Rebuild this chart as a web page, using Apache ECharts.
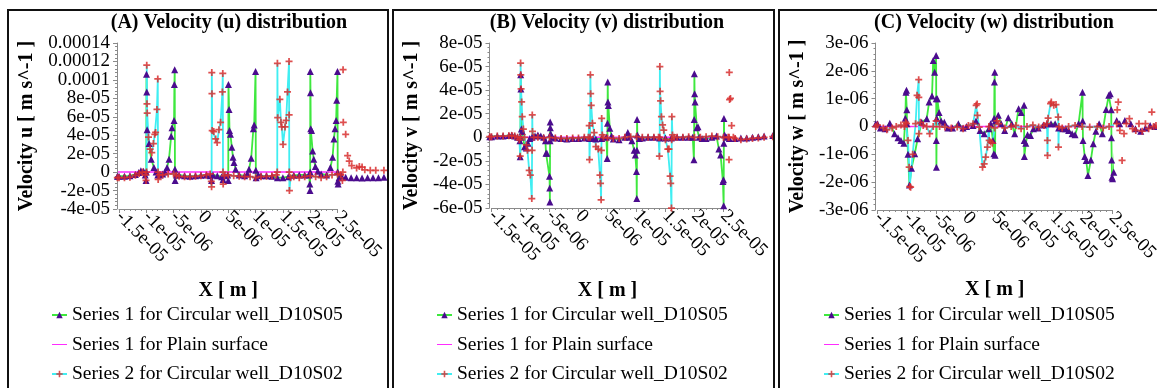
<!DOCTYPE html>
<html>
<head>
<meta charset="utf-8">
<script src="https://cdn.jsdelivr.net/npm/echarts@6/dist/echarts.min.js"></script>
<style>
  html, body { margin: 0; padding: 0; background: #fff; width: 1157px; height: 388px; overflow: hidden; }
  .panel { position: absolute; box-sizing: border-box; border: 2px solid #111; overflow: hidden; background: #fff; }
  .panel > div { position: absolute; left: 0; top: 0; }
</style>
</head>
<body>
<div id="pA" class="panel"><div id="cA"></div></div>
<div id="pB" class="panel"><div id="cB"></div></div>
<div id="pC" class="panel"><div id="cC"></div></div>
<script>
// ---- Units used in the arrays below ----
// x positions are in micrometres; u and v in 1e-5 m/s; w in 1e-6 m/s.
const X_UNIT = 1e-6;
const UV_UNIT = 1e-5;
const W_UNIT = 1e-6;

const seriesNames = [
  'Series 1 for Circular well_D10S05',
  'Series 1 for Plain surface',
  'Series 2 for Circular well_D10S02'
];

const xTickLabels = ['-1.5e-05', '-1e-05', '-5e-06', '0', '5e-06', '1e-05', '1.5e-05', '2e-05', '2.5e-05'];
const uTickLabels = ['-4e-05', '-2e-05', '0', '2e-05', '4e-05', '6e-05', '8e-05', '0.0001', '0.00012', '0.00014'];
const vTickLabels = ['-6e-05', '-4e-05', '-2e-05', '0', '2e-05', '4e-05', '6e-05', '8e-05'];
const wTickLabels = ['-3e-06', '-2e-06', '-1e-06', '0', '1e-06', '2e-06', '3e-06'];

// ---- (A) u velocity ----
const uD10S05 = [[-15.3,-0.45],[-15,-0.45],[-14,-0.45],[-13,-0.4],[-12,-0.25],[-11.4,-0.05],[-11,0.15],[-10.5,0.1],[-10.2,-0.3],[-10.05,-0.9],[-10.0,0.0],[-9.97,10.6],[-9.92,8.7],[-9.85,4.6],[-9.5,3.1],[-9.1,1.4],[-8.6,0.5],[-8.2,0.0],[-7.9,-0.3],[-7.5,-0.3],[-7,-0.2],[-6.6,0.0],[-6.2,0.5],[-5.85,1.4],[-5.45,3.9],[-5.3,4.8],[-4.92,5.6],[-4.86,9.5],[-4.8,11.1],[-4.76,0.3],[-4.72,-0.9],[-4.5,-0.3],[-4,-0.3],[-3,-0.4],[-2,-0.45],[-1,-0.4],[0,-0.35],[1,-0.3],[1.7,-0.4],[1.95,-0.9],[2.2,-0.3],[3,-0.4],[3.8,-0.5],[4.05,-0.8],[4.4,-0.4],[4.9,-0.3],[5.0,-0.9],[5.04,9.5],[5.15,6.8],[5.23,4.5],[5.4,4.1],[5.65,2.7],[5.87,1.6],[6.05,1.05],[6.35,0.3],[7,-0.3],[8,-0.4],[8.5,-0.2],[8.8,0.3],[9.2,1.5],[9.6,4.7],[9.75,5.1],[10.0,10.9],[10.05,0.2],[10.1,-0.6],[10.5,-0.3],[11,-0.4],[12,-0.4],[13,-0.45],[14,-0.6],[15,-0.6],[16,-0.5],[17,-0.35],[18,-0.3],[19,-0.3],[19.8,-0.3],[19.93,-1.3],[19.97,-2.0],[20.0,0.0],[20.02,10.9],[20.06,8.6],[20.1,4.7],[20.25,4.5],[20.45,2.3],[20.65,1.4],[20.95,0.6],[21.4,0.1],[22,-0.2],[23,-0.3],[23.7,0.5],[24.1,1.6],[24.35,3.6],[24.55,4.7],[24.75,5.6],[24.85,7.8],[25.0,10.9],[25.04,0.0],[25.07,-1.0],[25.12,-1.3],[25.3,-0.6],[25.7,-0.4],[26.5,-0.55],[27.5,-0.6],[28.5,-0.6],[29.5,-0.65],[30.5,-0.6],[31.5,-0.6],[32.5,-0.6],[33.5,-0.55]];
const uPlain = [[-15.3,0],[-5,0],[5,0],[15,0],[25,0],[33.5,0]];
const uD10S02 = [[-15.3,-0.6],[-15,-0.6],[-14,-0.6],[-13,-0.55],[-12,-0.35],[-11.3,-0.15],[-10.7,0.0],[-10.2,-0.3],[-10.05,-0.9],[-9.95,0.0],[-9.92,11.6],[-9.88,7.4],[-9.84,6.4],[-9.6,3.8],[-9.3,2.5],[-9.0,2.1],[-8.7,3.1],[-8.45,4.1],[-8.3,4.3],[-8.05,6.8],[-7.9,10.1],[-7.86,0.0],[-7.83,-0.8],[-7.6,-0.3],[-7,-0.3],[-6,-0.2],[-5,-0.2],[-4.5,-0.35],[-4,-0.45],[-3,-0.5],[-2,-0.5],[-1,-0.45],[0,-0.4],[1,-0.3],[1.7,-0.2],[1.9,-1.0],[1.95,-1.6],[1.99,10.8],[2.02,8.5],[2.06,4.5],[2.35,4.4],[2.7,3.6],[2.97,3.2],[3.3,4.6],[3.6,5.4],[3.93,8.7],[4.0,10.7],[4.04,0.0],[4.07,-1.3],[4.3,-0.4],[5,-0.3],[6,-0.4],[7,-0.45],[8,-0.5],[9,-0.5],[10,-0.6],[11,-0.5],[12,-0.45],[13,-0.4],[13.8,-0.3],[13.97,0.0],[14.0,11.8],[14.05,5.9],[14.45,7.9],[14.65,5.4],[14.8,4.9],[15.03,3.0],[15.4,4.9],[15.6,5.6],[15.85,8.7],[16.13,12.0],[16.15,6.2],[16.17,0.0],[16.2,-2.0],[16.4,-0.6],[17,-0.5],[18,-0.6],[19,-0.5],[20,-0.4],[21,-0.5],[22,-0.6],[23,-0.5],[24,-0.3],[25,-0.2],[25.6,-0.3],[25.9,-0.9],[25.98,0.0],[26.02,11.1],[26.06,5.4],[26.5,4.1],[26.85,1.8],[27.15,1.2],[27.6,0.7],[28.5,0.45],[29,0.6],[29.5,0.55],[30,0.25],[31,0.2],[32,0.2],[33.5,0.2]];

// ---- (B) v velocity ----
const vD10S05 = [[-15.3,0.05],[-15,0.05],[-14,0.1],[-13,0.1],[-12,0.15],[-11.5,0.2],[-11,0.1],[-10.5,0.0],[-10.1,-0.3],[-10.05,-1.65],[-10.0,0.0],[-9.97,5.3],[-9.93,4.1],[-9.85,0.7],[-9.7,0.5],[-9.3,-0.8],[-9.0,-0.9],[-8.7,-0.5],[-8.4,-0.1],[-8,0.0],[-7.5,0.1],[-7,0.2],[-6.5,0.1],[-6,0.0],[-5.7,-0.3],[-5.6,-1.35],[-5.45,-1.35],[-5.0,-3.3],[-4.96,-4.3],[-4.93,-5.5],[-4.9,-0.3],[-4.88,1.3],[-4.86,0.8],[-4.8,0.3],[-4.5,0.0],[-4,-0.05],[-3,-0.1],[-2,-0.15],[-1,-0.1],[0,-0.1],[1,-0.05],[1.9,-0.1],[2.5,-0.1],[3,-0.15],[4,-0.1],[4.8,0.0],[4.95,-1.8],[5.0,1.2],[5.04,4.7],[5.08,3.0],[5.15,2.7],[5.4,0.76],[5.7,0.1],[6,-0.15],[7,-0.2],[8,0.0],[8.5,0.4],[8.8,0.0],[9.2,-0.3],[9.6,-1.1],[9.8,-1.5],[10.0,-2.9],[10.05,-5.2],[10.08,-1.1],[10.1,1.5],[10.15,0.2],[10.5,-0.1],[11,-0.05],[12,0.0],[13,0.0],[14,-0.05],[15,-0.05],[16,-0.05],[17,0.0],[18,0.0],[19,0.0],[19.7,0.0],[19.9,-1.9],[19.95,1.5],[19.98,5.4],[20.02,3.7],[20.1,3.0],[20.4,0.8],[20.6,0.9],[20.8,0.0],[21.3,-0.1],[22,-0.1],[23,0.0],[23.8,0.1],[24.2,-1.0],[24.5,-1.5],[24.9,-3.75],[25.0,-3.6],[25.03,-5.8],[25.06,-0.5],[25.08,1.6],[25.2,0.2],[25.5,0.0],[26,-0.1],[27,-0.1],[28,-0.05],[29,-0.05],[30,0.0],[31,0.05],[32,0.1],[33.5,0.15]];
const vPlain = [[-15.3,0],[-5,0],[5,0],[15,0],[25,0],[33.5,0]];
const vD10S02 = [[-15.3,0.05],[-15,0.05],[-14,0.1],[-13,0.1],[-12,0.12],[-11.5,0.15],[-11,0.1],[-10.5,0.0],[-10.2,-0.2],[-10.05,-1.6],[-10.0,0.0],[-9.98,6.3],[-9.95,5.3],[-9.9,4.1],[-9.8,3.0],[-9.7,1.75],[-9.5,0.7],[-9.3,0.0],[-9.0,-0.65],[-8.8,-1.1],[-8.5,-2.8],[-8.3,-3.2],[-8.05,-5.2],[-8.0,-1.1],[-7.97,1.9],[-7.93,0.5],[-7.7,0.0],[-7,0.0],[-6,-0.05],[-5,0.0],[-4,-0.05],[-3,-0.1],[-2,-0.1],[-1,-0.05],[0,-0.05],[1,0.0],[1.7,0.0],[1.85,1.0],[1.9,-1.9],[2.0,0.0],[2.05,5.3],[2.1,3.7],[2.2,2.7],[2.4,1.2],[2.7,0.4],[3.0,-0.8],[3.4,-1.0],[3.7,-3.2],[3.8,-3.9],[3.9,-5.3],[3.95,-1.1],[4.0,1.6],[4.1,0.2],[4.3,0.0],[5,-0.05],[6,-0.1],[7,-0.1],[8,0.0],[9,0.05],[10,0.05],[11,0.0],[12,0.0],[13,0.0],[13.8,0.0],[13.95,-1.6],[14.0,0.0],[14.03,6.0],[14.07,3.9],[14.15,3.1],[14.3,1.75],[14.5,1.05],[14.7,0.6],[15.0,-0.2],[15.4,-1.0],[15.6,-1.0],[15.8,-3.3],[15.9,-3.9],[16.03,-6.0],[16.07,-0.2],[16.1,1.75],[16.2,0.2],[16.5,0.0],[17,0.0],[18,0.0],[19,0.05],[20,0.0],[21,0.0],[22,0.05],[23,0.1],[24,0.05],[25,0.0],[25.8,0.0],[25.95,-1.9],[25.98,0.0],[26.0,5.5],[26.05,3.2],[26.2,3.3],[26.4,1.0],[26.7,0.0],[27,-0.1],[28,-0.2],[29,-0.15],[30,-0.1],[31,-0.05],[32,0.0],[33.5,0.05]];

// ---- (C) w velocity ----
const wD10S05 = [[-15.3,0.1],[-15,0.1],[-14.5,-0.05],[-13.7,-0.08],[-12.9,0.12],[-12.1,-0.26],[-11.5,-0.4],[-11.0,-0.5],[-10.5,-0.6],[-10.25,0.3],[-10.15,1.23],[-10.05,1.3],[-10.0,0.6],[-9.98,0.1],[-9.8,-1.0],[-9.55,-2.1],[-9.2,-1.5],[-8.65,-0.98],[-8.15,-0.44],[-7.45,0.15],[-6.6,0.28],[-6.2,0.88],[-5.7,1.1],[-5.5,2.37],[-5.25,1.95],[-5.0,2.55],[-4.98,1.0],[-4.97,-0.5],[-4.95,-1.46],[-4.9,0.3],[-4.8,1.0],[-4.5,0.5],[-4.15,0.2],[-3.6,0.15],[-3.0,-0.05],[-2.2,-0.05],[-1.2,0.1],[-0.4,-0.05],[0.2,0.0],[1.3,0.04],[1.8,0.2],[2.5,-0.14],[3.2,-0.26],[4.0,-0.08],[4.3,0.1],[4.7,-0.5],[4.85,-0.98],[4.9,0.3],[4.95,1.6],[5.0,1.95],[5.05,-1.03],[5.1,0.2],[5.6,0.4],[6.1,0.1],[6.7,-0.14],[7.3,0.31],[7.9,0.1],[8.4,-0.26],[9.07,0.64],[9.5,0.5],[10.0,0.76],[10.02,-0.5],[10.05,-1.08],[10.3,-0.6],[10.6,-0.3],[11.1,-0.32],[11.6,-0.08],[12.4,-0.05],[13.3,0.05],[13.9,0.1],[14.6,0.1],[15.3,0.1],[15.9,-0.05],[16.6,-0.08],[17.1,-0.08],[17.6,-0.14],[18.2,-0.26],[18.7,-0.3],[19.3,0.1],[19.97,1.23],[20.0,0.2],[20.05,-0.5],[20.35,-1.08],[20.6,-1.22],[20.9,-1.76],[21.4,-1.2],[21.8,-0.62],[22.25,-0.17],[22.8,0.1],[23.35,-0.26],[24.0,0.61],[24.45,1.12],[24.7,1.18],[24.87,0.6],[24.9,-0.4],[24.95,-1.2],[25.0,-1.82],[25.1,-1.88],[25.3,-1.64],[25.8,0.22],[26.3,0.1],[27.2,0.22],[28.2,0.1],[29.0,-0.08],[29.9,-0.17],[30.7,-0.05],[31.5,0.04],[32.3,0.0],[33.5,0.0]];
const wPlain = [[-15.3,0],[-5,0],[5,0],[15,0],[25,0],[33.5,0]];
const wD10S02 = [[-15.3,0.0],[-15,0.05],[-14,-0.05],[-13.4,-0.12],[-12.5,-0.05],[-11.8,0.0],[-11,0.05],[-10.4,0.0],[-10.2,0.15],[-10.05,0.1],[-9.8,-0.5],[-9.6,-1.46],[-9.5,-2.16],[-9.35,-2.18],[-9.0,-1.0],[-8.5,0.1],[-8.25,1.12],[-7.97,1.68],[-7.95,1.05],[-7.93,-0.26],[-7.7,0.15],[-7.2,0.04],[-6.6,0.0],[-6.1,-0.26],[-5.5,0.0],[-5.0,0.2],[-4.4,0.0],[-3.5,-0.02],[-2.4,-0.05],[-1.4,-0.02],[-0.4,-0.08],[0.5,0.04],[1.3,0.1],[1.83,0.76],[2.0,0.81],[2.05,0.4],[2.35,-0.02],[2.92,-1.46],[3.2,-1.34],[3.45,-1.1],[3.75,-0.74],[4.0,0.0],[4.05,-0.5],[4.3,-0.56],[4.6,-0.6],[5.0,-0.05],[5.4,0.2],[5.65,0.1],[6.7,-0.05],[7.8,0.0],[8.6,0.04],[9.5,-0.08],[10.5,0.0],[11.5,0.05],[12.5,-0.02],[13.4,0.04],[13.9,0.1],[13.98,-0.5],[14.0,-1.04],[14.1,0.3],[14.52,0.82],[14.65,0.88],[15.07,0.76],[15.45,0.79],[15.83,0.34],[15.87,-0.74],[15.95,0.0],[16.5,-0.05],[17.6,0.0],[18.7,0.04],[19.9,0.0],[21.2,-0.02],[22.5,0.0],[23.5,-0.05],[24.5,0.0],[25.8,0.1],[25.9,0.6],[26.07,0.88],[26.34,-0.14],[26.72,-1.22],[27.05,-0.26],[27.45,0.1],[27.97,0.28],[28.5,-0.08],[29.06,-0.14],[29.6,0.1],[30.15,-0.17],[30.7,0.1],[31.25,-0.08],[31.79,0.52],[32.1,0.0],[32.5,0.04],[33.5,0.0]];

// ---- drawing ----
const FONT = '"Liberation Serif", "Times New Roman", serif';
const PLUS = 'path://M3,0H5V3H8V5H5V8H3V5H0V3H3Z';
const LINE_ICON = 'path://M0,0H30V2H0Z';
const AXIS_GREY = '#8a8a8a';

// clean decimal value of n * unit (avoids binary round-off in axis bounds)
function exact(n, unit) {
  return Number((n * unit).toPrecision(10));
}

function scale(points, yUnit) {
  return points.map(p => [p[0] * X_UNIT, p[1] * yUnit]);
}

// parity: null = every label, 0 = even ticks only, 1 = odd ticks only
function tickFormatter(labels, min, interval, parity) {
  return function (value) {
    const i = Math.round((value - min) / interval);
    if (parity !== null && i % 2 !== parity) return '';
    return labels[i] !== undefined ? labels[i] : '';
  };
}

// page-space layout of each panel (box, plot area, texts)
function drawPanel(cfg) {
  const box = document.getElementById(cfg.boxId);
  box.style.left = cfg.box[0] + 'px';
  box.style.top = cfg.box[1] + 'px';
  box.style.width = cfg.box[2] + 'px';
  box.style.height = cfg.box[3] + 'px';
  const ox = cfg.box[0] + 2, oy = cfg.box[1] + 2;
  const el = document.getElementById(cfg.chartId);
  el.style.width = (cfg.box[2] - 4) + 'px';
  el.style.height = (cfg.box[3] - 4) + 'px';
  const chart = echarts.init(el, null, { renderer: 'canvas' });

  const g = cfg.grid; // [x0, x1, y0, y1] in page pixels
  const xMin = exact(-15, X_UNIT), xMax = exact(25, X_UNIT), xInt = exact(5, X_UNIT);
  const yMin = exact(cfg.yMin, cfg.yUnit), yMax = exact(cfg.yMax, cfg.yUnit), yInt = exact(cfg.yInt, cfg.yUnit);

  const yLabelStyle = { margin: 7, fontFamily: FONT, fontSize: 19, color: '#000', showMinLabel: true, showMaxLabel: true };

  // the value scale is carried by the first y axis; the second one shares the
  // same scale and only prints the alternate tick labels, so closely spaced
  // labels all stay visible
  const yAxes = [
    {
      type: 'value',
      min: yMin, max: yMax, interval: yInt,
      offset: 2,
      name: cfg.yName,
      nameLocation: 'middle',
      nameGap: cfg.yNameGap,
      nameTextStyle: { fontFamily: FONT, fontWeight: 'bold', fontSize: 20, color: '#000' },
      axisLine: { show: true, onZero: false, lineStyle: { color: AXIS_GREY, width: 1 } },
      axisTick: { show: true, length: 4, lineStyle: { color: AXIS_GREY } },
      minorTick: { show: true, splitNumber: 5, length: 2, lineStyle: { color: AXIS_GREY } },
      splitLine: { show: false },
      axisLabel: Object.assign({}, yLabelStyle, {
        formatter: tickFormatter(cfg.yTicks, yMin, yInt, cfg.splitLabels ? 0 : null)
      })
    }
  ];
  if (cfg.splitLabels) {
    yAxes.push({
      type: 'value', position: 'left',
      min: yMin, max: yMax, interval: yInt,
      offset: 2,
      axisLine: { show: false },
      axisTick: { show: false },
      minorTick: { show: false },
      splitLine: { show: false },
      axisLabel: Object.assign({}, yLabelStyle, {
        formatter: tickFormatter(cfg.yTicks, yMin, yInt, 1)
      })
    });
  }

  const option = {
    animation: false,
    title: {
      text: cfg.title,
      left: cfg.titleX - ox,
      top: cfg.titleY - oy,
      textAlign: 'center',
      padding: 0,
      textStyle: { fontFamily: FONT, fontWeight: 'bold', fontSize: 20, color: '#000', lineHeight: 20 }
    },
    legend: {
      orient: 'vertical',
      left: cfg.legendX - ox,
      top: cfg.legendY - oy,
      padding: 0,
      data: [
        { name: seriesNames[0] },
        { name: seriesNames[1], icon: LINE_ICON },
        { name: seriesNames[2] }
      ],
      itemWidth: 15,
      itemHeight: 8,
      itemGap: 9.5,
      textStyle: { fontFamily: FONT, fontSize: 19.5, color: '#000', lineHeight: 20 },
      selectedMode: false
    },
    grid: {
      left: g[0] - ox,
      top: g[2] - oy,
      width: g[1] - g[0],
      height: g[3] - g[2],
      containLabel: false
    },
    xAxis: {
      type: 'value',
      min: xMin, max: xMax, interval: xInt,
      name: 'X [ m ]',
      nameLocation: 'middle',
      nameGap: cfg.xNameGap,
      nameTextStyle: { fontFamily: FONT, fontWeight: 'bold', fontSize: 20, color: '#000' },
      axisLine: { show: true, onZero: false, lineStyle: { color: AXIS_GREY, width: 1 } },
      axisTick: { show: true, length: 4, lineStyle: { color: AXIS_GREY } },
      minorTick: { show: true, splitNumber: 5, length: 2, lineStyle: { color: AXIS_GREY } },
      splitLine: { show: false },
      axisLabel: {
        rotate: -45, margin: 5, fontFamily: FONT, fontSize: 19, color: '#000',
        showMinLabel: true, showMaxLabel: true,
        formatter: tickFormatter(xTickLabels, xMin, xInt, null)
      }
    },
    yAxis: yAxes,
    series: [
      {
        name: seriesNames[0], type: 'line', clip: false, yAxisIndex: 0,
        data: scale(cfg.s1, cfg.yUnit),
        symbol: 'triangle', symbolSize: 7, showAllSymbol: true,
        lineStyle: { color: '#3ee83e', width: 1.8 },
        itemStyle: { color: '#4b0c8e' },
        emphasis: { disabled: true }
      },
      {
        name: seriesNames[1], type: 'line', clip: false, z: 3, yAxisIndex: 0,
        data: scale(cfg.plain, cfg.yUnit),
        symbol: 'none', showSymbol: false,
        lineStyle: { color: '#ff2cff', width: 1.5 },
        itemStyle: { color: '#ff2cff' },
        emphasis: { disabled: true }
      },
      {
        name: seriesNames[2], type: 'line', clip: false, yAxisIndex: 0,
        data: scale(cfg.s2, cfg.yUnit),
        symbol: PLUS, symbolSize: 7, showAllSymbol: true,
        lineStyle: { color: '#40eef2', width: 1.8 },
        itemStyle: { color: '#d83030', opacity: 0.85 },
        emphasis: { disabled: true }
      }
    ]
  };
  chart.setOption(option);
}

drawPanel({
  boxId: 'pA', chartId: 'cA', box: [7, 9, 382, 400],
  grid: [110, 340, 43, 209],
  title: '(A) Velocity (u) distribution', titleX: 229, titleY: 13,
  legendX: 51, legendY: 305,
  yName: 'Velocity u [ m s^-1 ]', yNameGap: 80, xNameGap: 72,
  yMin: -4, yMax: 14, yInt: 2, yUnit: UV_UNIT, yTicks: uTickLabels, splitLabels: true,
  s1: uD10S05, plain: uPlain, s2: uD10S02
});

drawPanel({
  boxId: 'pB', chartId: 'cB', box: [392, 9, 383, 400],
  grid: [480, 725, 43, 208],
  title: '(B) Velocity (v) distribution', titleX: 607, titleY: 13,
  legendX: 436, legendY: 305,
  yName: 'Velocity v [ m s^-1 ]', yNameGap: 67, xNameGap: 73,
  yMin: -6, yMax: 8, yInt: 2, yUnit: UV_UNIT, yTicks: vTickLabels, splitLabels: false,
  s1: vD10S05, plain: vPlain, s2: vD10S02
});

drawPanel({
  boxId: 'pC', chartId: 'cC', box: [778, 9, 390, 400],
  grid: [867, 1112, 43, 210],
  title: '(C) Velocity (w) distribution', titleX: 994, titleY: 13,
  legendX: 823, legendY: 305,
  yName: 'Velocity w [ m s^-1 ]', yNameGap: 58, xNameGap: 70,
  yMin: -3, yMax: 3, yInt: 1, yUnit: W_UNIT, yTicks: wTickLabels, splitLabels: false,
  s1: wD10S05, plain: wPlain, s2: wD10S02
});
</script>
</body>
</html>
